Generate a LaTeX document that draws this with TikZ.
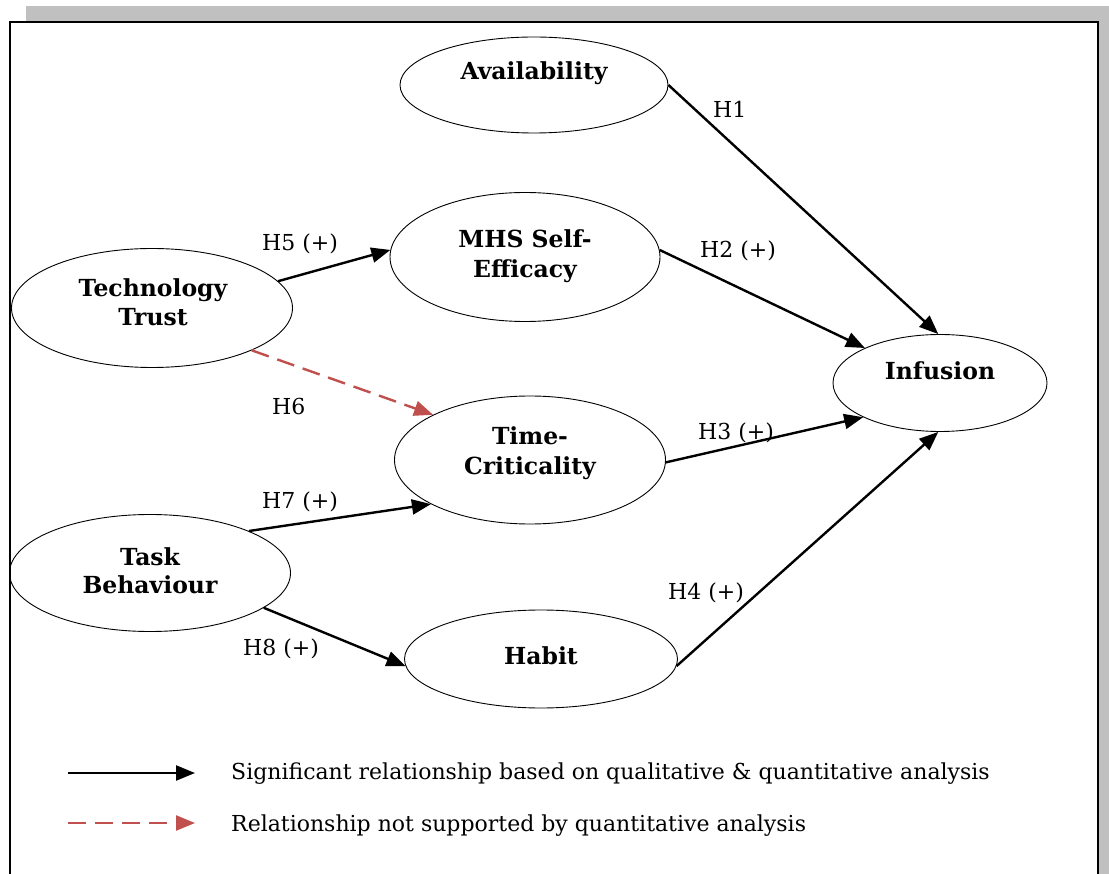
\documentclass[tikz,border=0pt]{standalone}
\usepackage{fontspec}
\setmainfont{DejaVu Serif}
\usetikzlibrary{shapes.geometric,arrows.meta}
\definecolor{dred}{RGB}{192,80,77}
\definecolor{shadowgray}{RGB}{192,192,192}
\begin{document}
\begin{tikzpicture}[x=1pt,y=-1pt,
  ell/.style={draw, ellipse, line width=0.9pt, inner sep=0pt},
  lbl/.style={font=\fontsize{22}{26}\selectfont, inner sep=0pt, anchor=base west},
  ttl/.style={font=\fontsize{23.5}{28}\selectfont\bfseries, inner sep=0pt, anchor=base},
  arr/.style={line width=2.4pt, -{Triangle[length=19pt,width=15pt]}},
  darr/.style={line width=2.4pt, draw=dred, dash pattern=on 18pt off 9pt, -{Triangle[length=19pt,width=15pt,fill=dred]}}]
\useasboundingbox (0,0) rectangle (1109,874);
\clip (0,0) rectangle (1109,874);
\fill[shadowgray] (26,6) rectangle (1120,900);
\draw[fill=white, line width=2pt] (10,22) rectangle (1098,900);
% ellipses
\node[ell, minimum width=268pt, minimum height=96pt] (av) at (534,85) {};
\node[ell, minimum width=270pt, minimum height=129pt] (mhs) at (525,257) {};
\node[ell, minimum width=281pt, minimum height=119pt] (tt) at (152,308) {};
\node[ell, minimum width=214pt, minimum height=97pt] (inf) at (940,383) {};
\node[ell, minimum width=271pt, minimum height=128pt] (tc) at (530,460) {};
\node[ell, minimum width=281pt, minimum height=117pt] (tb) at (150,573) {};
\node[ell, minimum width=273pt, minimum height=98pt] (hab) at (541,659) {};
% ellipse texts
\node[ttl] (avT) at (534,80) {Availability};
\node[ttl] (mhsT1) at (525,248) {MHS Self-};
\node[ttl] (mhsT2) at (525,278) {Efficacy};
\node[ttl] (ttT1) at (153,297) {Technology};
\node[ttl] (ttT2) at (153,326) {Trust};
\node[ttl] (infT) at (940,380) {Infusion};
\node[ttl] (tcT1) at (530,445) {Time-};
\node[ttl] (tcT2) at (530,475) {Criticality};
\node[ttl] (tbT1) at (150,565) {Task};
\node[ttl] (tbT2) at (150,593) {Behaviour};
\node[ttl] (habT) at (541,664) {Habit};
% connectors
\draw[arr] (av.east) -- (inf.92);
\draw[arr] (mhs.3) -- (inf.155.6);
\draw[arr] (tt.12) -- (mhs.177);
\draw[darr] (tt.337) -- (tc.155.3);
\draw[arr] (tc.359) -- (inf.204.7);
\draw[arr] (tb.23.4) -- (tc.204.9);
\draw[arr] (tb.343.3) -- (hab.183);
\draw[arr] (hab.357) -- (inf.268);
% labels
\node[lbl] (h1) at (713,118) {H1};
\node[lbl] (h2) at (700,258) {H2 (+)};
\node[lbl] (h5) at (262,251) {H5 (+)};
\node[lbl] (h6) at (272,415) {H6};
\node[lbl] (h3) at (698,440) {H3 (+)};
\node[lbl] (h7) at (262,508) {H7 (+)};
\node[lbl] (h8) at (243,655) {H8 (+)};
\node[lbl] (h4) at (668,599) {H4 (+)};
% legend
\coordinate (l1a) at (68,773);
\coordinate (l1b) at (195,773);
\coordinate (l2a) at (68,823);
\coordinate (l2b) at (195,823);
\draw[arr] (l1a) -- (l1b);
\draw[darr] (l2a) -- (l2b);
\node[lbl] (leg1) at (231,779) {Significant relationship based on qualitative \& quantitative analysis};
\node[lbl] (leg2) at (231,831) {Relationship not supported by quantitative analysis};
\end{tikzpicture}
\end{document}
